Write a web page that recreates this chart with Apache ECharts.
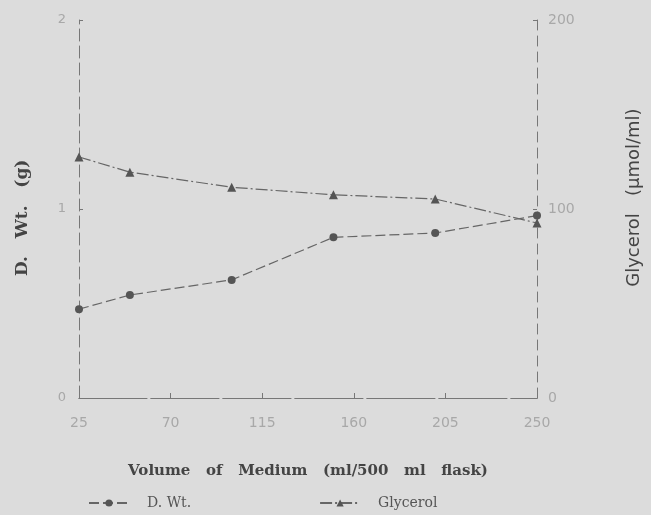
<!DOCTYPE html>
<html>
<head>
<meta charset="utf-8">
<script src="https://cdn.jsdelivr.net/npm/echarts@6/dist/echarts.min.js"></script>
<style>
html, body { margin: 0; padding: 0; background: #dcdcdc; }
#chart { width: 651px; height: 515px; }
</style>
</head>
<body>
<div id="chart"></div>
<script>
// volume of medium, ml per 500 ml flask
var volumes = [25, 50, 100, 150, 200, 250];
var dryWeight = [0.47, 0.545, 0.625, 0.85, 0.873, 0.965];
var glycerol = [127.5, 119.5, 111.5, 107.5, 105.3, 92.6];
var xTicks = [25, 70, 115, 160, 205, 250];

function pairs(xs, ys) {
	var out = [];
	for (var i = 0; i < xs.length; i++) out.push([xs[i], ys[i]]);
	return out;
}

var chart = echarts.init(document.getElementById('chart'));
var axisGray = '#777';
var tickText = '#a8a8a8';

var option = {
	backgroundColor: '#dcdcdc',
	animation: false,
	grid: { left: 79, right: 113, top: 20, bottom: 117 },
	legend: {
		left: 83,
		bottom: 0,
		itemWidth: 40,
		itemHeight: 9,
		itemGap: 128,
		textStyle: { fontFamily: 'DejaVu Serif', fontSize: 14, color: '#555', padding: [0, 0, 0, 13] },
		data: ['D. Wt.', 'Glycerol']
	},
	xAxis: [{
		type: 'value',
		min: 25,
		max: 250,
		name: 'Volume   of   Medium   (ml/500   ml   flask)',
		nameLocation: 'middle',
		nameGap: 66,
		nameTextStyle: { fontFamily: 'DejaVu Serif', fontSize: 15, fontWeight: 'bold', color: '#444' },
		axisLine: { lineStyle: { color: axisGray, type: [14, 4] } },
		axisTick: { inside: true, length: 5, customValues: xTicks, lineStyle: { color: axisGray } },
		axisLabel: { customValues: xTicks, margin: 18, fontFamily: 'DejaVu Sans', fontSize: 14, color: tickText },
		splitLine: { show: false }
	}, {
		type: 'value',
		position: 'top',
		min: 25,
		max: 250,
		axisLine: { show: true, lineStyle: { color: axisGray, type: [18, 6] } },
		axisTick: { show: false },
		axisLabel: { show: false },
		splitLine: { show: false }
	}],
	yAxis: [{
		type: 'value',
		min: 0,
		max: 2,
		interval: 1,
		name: 'D.   Wt.   (g)   ',
		nameLocation: 'middle',
		nameGap: 48,
		nameTextStyle: { fontFamily: 'DejaVu Serif', fontSize: 17, fontWeight: 'bold', color: '#444' },
		axisLine: { show: true, lineStyle: { color: axisGray, type: [12, 5] } },
		axisTick: { show: true, inside: true, length: 4, lineStyle: { color: axisGray } },
		axisLabel: { margin: 13, fontFamily: 'DejaVu Sans', fontSize: 13, color: tickText },
		splitLine: { show: false }
	}, {
		type: 'value',
		min: 0,
		max: 200,
		interval: 100,
		position: 'right',
		name: '    Glycerol   (μmol/ml)',
		nameLocation: 'middle',
		nameGap: 88,
		nameRotate: 90,
		nameTextStyle: { fontFamily: 'DejaVu Sans', fontSize: 18, color: '#444' },
		axisLine: { show: true, lineStyle: { color: axisGray, type: [10, 6] } },
		axisTick: { show: true, inside: true, length: 4, lineStyle: { color: axisGray } },
		axisLabel: { margin: 11, fontFamily: 'DejaVu Sans', fontSize: 14, color: tickText },
		splitLine: { show: false }
	}],
	series: [{
		name: 'D. Wt.',
		type: 'line',
		yAxisIndex: 0,
		symbol: 'circle',
		symbolSize: 8,
		itemStyle: { color: '#555' },
		lineStyle: { color: '#666', width: 1.2, type: [10, 4] },
		data: pairs(volumes, dryWeight)
	}, {
		name: 'Glycerol',
		type: 'line',
		yAxisIndex: 1,
		symbol: 'triangle',
		symbolSize: 9,
		itemStyle: { color: '#555' },
		lineStyle: { color: '#666', width: 1.2, type: [12, 3, 2, 3] },
		data: pairs(volumes, glycerol)
	}]
};
chart.setOption(option);
</script>
</body>
</html>
